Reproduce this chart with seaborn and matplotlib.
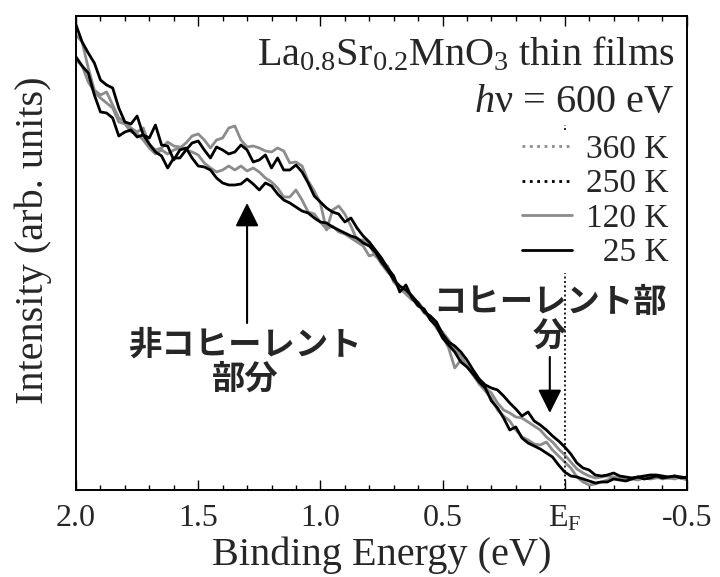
import numpy as np
import pandas as pd
import matplotlib
matplotlib.use("Agg")
import matplotlib.pyplot as plt
from matplotlib.lines import Line2D
import seaborn as sns

# binding energy grid (eV), 2.0 -> -0.5 in 0.025 eV steps
energy = np.linspace(2.0, -0.5, 101)

# intensities (arb. units)
i_25k = [465, 448, 437, 427, 410, 405, 402, 382, 368, 366,
         374, 355, 352, 365, 345, 344, 330, 340, 342, 332,
         324, 323, 320, 312, 307, 305, 305, 306, 311, 306,
         300, 307, 304, 296, 290, 287, 283, 279, 277, 272,
         268, 267, 263, 260, 257, 254, 252, 247, 244, 238,
         228, 220, 210, 204, 200, 194, 187, 178, 174, 168,
         156, 148, 144, 138, 130, 120, 111, 105, 102, 100,
         94, 87, 81, 74, 78, 69, 65, 60, 54, 49,
         43, 36, 27, 22, 20, 15, 14, 15, 17, 14,
         13, 12, 13, 14, 15, 15, 14, 13, 14, 13, 12]
i_120k = [455, 448, 422, 400, 395, 398, 385, 372, 368, 362,
          358, 362, 345, 340, 342, 348, 344, 343, 340, 338,
          335, 327, 322, 318, 320, 324, 320, 324, 319, 322,
          318, 312, 308, 302, 293, 293, 300, 290, 278, 276,
          268, 261, 264, 258, 256, 252, 248, 244, 234, 236,
          226, 218, 212, 200, 198, 194, 186, 177, 172, 164,
          158, 150, 140, 134, 124, 116, 107, 102, 97, 87,
          80, 77, 73, 72, 68, 64, 60, 53, 48, 41,
          35, 28, 21, 17, 14, 12, 13, 14, 13, 12,
          11, 11, 10, 12, 14, 13, 11, 12, 13, 12, 10]
i_250k = [433, 424, 417, 395, 378, 377, 372, 354, 358, 360,
          353, 355, 346, 338, 334, 322, 332, 332, 340, 347,
          349, 340, 332, 343, 340, 336, 338, 345, 340, 328,
          330, 335, 322, 332, 320, 320, 325, 318, 307, 294,
          288, 282, 278, 276, 268, 272, 262, 254, 248, 240,
          232, 222, 214, 198, 205, 192, 184, 181, 170, 164,
          152, 145, 138, 128, 123, 116, 108, 102, 89, 82,
          72, 60, 63, 52, 47, 44, 41, 37, 33, 25,
          18, 14, 13, 11, 9, 7, 8, 8, 11, 10,
          9, 11, 13, 11, 12, 14, 12, 13, 14, 12, 13]
i_360k = [430, 424, 408, 398, 392, 387, 382, 368, 366, 358,
          356, 350, 342, 336, 340, 336, 340, 342, 347, 354,
          356, 350, 342, 350, 352, 362, 364, 350, 343, 344,
          342, 339, 338, 342, 339, 327, 328, 324, 309, 299,
          287, 260, 280, 284, 276, 264, 250, 250, 246, 234,
          228, 224, 208, 202, 196, 190, 188, 180, 172, 162,
          154, 142, 122, 130, 124, 115, 106, 99, 92, 80,
          74, 69, 60, 53, 50, 46, 45, 48, 40, 34,
          28, 22, 13, 8, 5, 6, 8, 10, 12, 11,
          10, 12, 13, 12, 11, 12, 13, 12, 11, 13, 12]

temps = ["360 K", "250 K", "120 K", "25 K"]
colors = {"360 K": "#8c8c8c", "250 K": "black", "120 K": "#8c8c8c", "25 K": "black"}
legend_styles = {"360 K": ":", "250 K": ":", "120 K": "-", "25 K": "-"}

df = pd.concat([
    pd.DataFrame({"E": energy, "I": i_360k, "T": "360 K"}),
    pd.DataFrame({"E": energy, "I": i_120k, "T": "120 K"}),
    pd.DataFrame({"E": energy, "I": i_250k, "T": "250 K"}),
    pd.DataFrame({"E": energy, "I": i_25k, "T": "25 K"}),
])

sns.set_theme(style="ticks")
plt.rcParams["font.family"] = ["Liberation Serif", "DejaVu Sans"]
plt.rcParams["mathtext.fontset"] = "custom"
plt.rcParams["mathtext.rm"] = "Liberation Serif"
plt.rcParams["mathtext.it"] = "Liberation Serif:italic"

fig = plt.figure(figsize=(7.2, 5.77), dpi=100)
ax = fig.add_axes([0.1056, 0.1508, 0.8484, 0.8215])

# gray first, black on top
for t in ["360 K", "120 K", "250 K", "25 K"]:
    sns.lineplot(data=df[df["T"] == t], x="E", y="I", color=colors[t],
                 lw=2.0, estimator=None, sort=False, ax=ax, legend=False)

ax.axvline(0.0, ymax=0.77, color="black", ls=(0, (1.2, 1.5)), lw=1.2)

ax.set_xlim(2.0, -0.5)
ax.set_ylim(0, 474)
ax.set_xticks([2.0, 1.5, 1.0, 0.5, 0.0, -0.5])
ax.set_xticklabels(["2.0", "1.5", "1.0", "0.5", r"E$_\mathrm{F}$", "-0.5"])
ax.set_xticks(np.arange(-0.5, 2.01, 0.1), minor=True)
ax.set_yticks([])
ax.tick_params(axis="x", which="both", direction="in", top=True, bottom=True,
               labelsize=23, pad=10, width=1.0, color="black")
ax.tick_params(axis="x", which="major", length=7)
ax.tick_params(axis="x", which="minor", length=3.5)
for s in ax.spines.values():
    s.set_linewidth(1.4)
    s.set_color("black")

ax.set_xlabel("Binding Energy (eV)", fontsize=29, labelpad=2)
ax.set_ylabel("Intensity (arb. units)", fontsize=29)
ax.yaxis.set_label_coords(-0.039, 0.527)

ax.text(0.98, 0.895, r"La$_{0.8}$Sr$_{0.2}$MnO$_3$ thin films", transform=ax.transAxes,
        ha="right", va="baseline", fontsize=29)
ax.text(0.98, 0.797, r"$h$ν = 600 eV", transform=ax.transAxes,
        ha="right", va="baseline", fontsize=29)

handles = [Line2D([], [], color=colors[t], ls=legend_styles[t], lw=2.0) for t in temps]
labels = ["360 K", "250 K", "120 K", "  25 K"]
leg = ax.legend(handles, labels, loc="upper right", bbox_to_anchor=(0.975, 0.757),
                fontsize=24, handlelength=1.5, handletextpad=0.4, labelspacing=0.12,
                frameon=True, fancybox=False, framealpha=1, borderpad=0.1,
                borderaxespad=0)
leg.get_frame().set_facecolor("white")
leg.get_frame().set_edgecolor("white")

jp = ["Noto Sans CJK JP", "DejaVu Sans"]
arrow = dict(arrowstyle="-|>,head_length=0.6,head_width=0.3", mutation_scale=24,
             lw=1.5, color="black", shrinkA=0, shrinkB=0)
ax.annotate("", xy=(1.30, 287), xytext=(1.30, 167), arrowprops=arrow)
ax.text(1.308, 128, "非コヒーレント\n部分", ha="center", va="center",
        fontsize=24, fontweight="bold", family=jp, linespacing=1.05)
ax.annotate("", xy=(0.061, 77), xytext=(0.061, 133), arrowprops=arrow)
ax.text(0.061, 170, "コヒーレント部\n分", ha="center", va="center",
        fontsize=24, fontweight="bold", family=jp, linespacing=1.05)

fig.savefig("out.png", dpi=100)
